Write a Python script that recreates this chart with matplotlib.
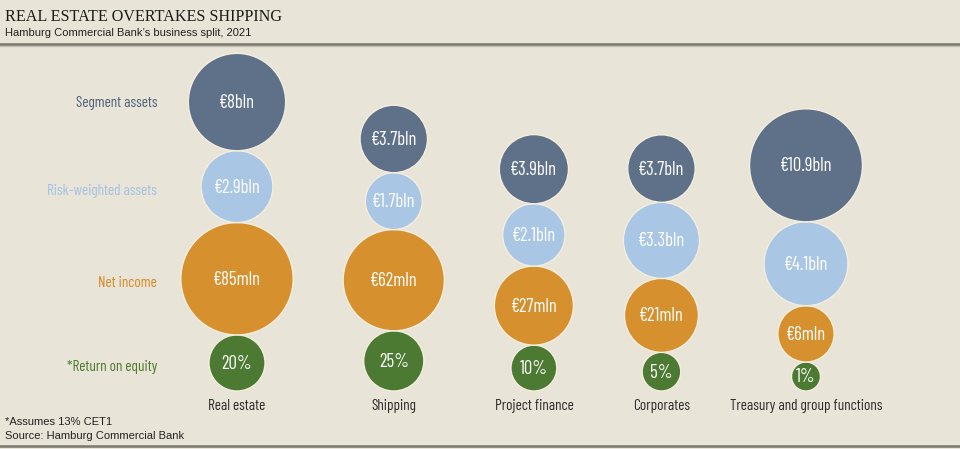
import numpy as np
import matplotlib
matplotlib.use("Agg")
import matplotlib.pyplot as plt
from matplotlib.patches import Circle

# data
segments = ["Real estate", "Shipping", "Project finance", "Corporates",
            "Treasury and group functions"]
row_names = ["Segment assets", "Risk-weighted assets", "Net income",
             "*Return on equity"]
segment_assets = [8, 3.7, 3.9, 3.7, 10.9]        # EUR bln
rwa = [2.9, 1.7, 2.1, 3.3, 4.1]                  # EUR bln
net_income = [85, 62, 27, 21, 6]                 # EUR mln
roe = [20, 25, 10, 5, 1]                         # percent

seg_labels = ["€8bln", "€3.7bln", "€3.9bln", "€3.7bln", "€10.9bln"]
rwa_labels = ["€2.9bln", "€1.7bln", "€2.1bln", "€3.3bln", "€4.1bln"]
ni_labels = ["€85mln", "€62mln", "€27mln", "€21mln", "€6mln"]
roe_labels = ["20%", "25%", "10%", "5%", "1%"]

# styling
BG = "#e8e4d8"
colors = ["#5f7189", "#a9c6e4", "#d6902e", "#4d7a32"]
label_colors = ["#4e607a", "#a3c2e2", "#d38a22", "#4a7a2c"]
# radius = a + b*sqrt(value), one pair per row
rscale = [(2, 16.5), (4, 18.75), (18, 4.14), (10.6, 3.9)]
COND = dict(family=["Barlow Condensed", "DejaVu Sans"], weight=400)

rows = [segment_assets, rwa, net_income, roe]
labels = [seg_labels, rwa_labels, ni_labels, roe_labels]
radii = np.array([[a + b * np.sqrt(v) for v in vals]
                  for (a, b), vals in zip(rscale, rows)])

fig = plt.figure(figsize=(9.6, 4.49), dpi=100, facecolor=BG)
ax = fig.add_axes([0, 0, 1, 1])
ax.set_xlim(0, 960)
ax.set_ylim(449, 0)
ax.set_facecolor(BG)
ax.axis("off")

# column positions: constant gap between widest bubbles
gap = 50
maxr = radii.max(axis=0)
xs = [237]
for i in range(1, len(segments)):
    xs.append(xs[-1] + maxr[i - 1] + maxr[i] + gap)

bottom = 391
centers = np.zeros_like(radii)
for j, x in enumerate(xs):
    y = bottom
    for i in range(3, -1, -1):
        r = radii[i, j]
        cy = y - r
        centers[i, j] = cy
        ax.add_patch(Circle((x, cy), r, facecolor=colors[i],
                            edgecolor="#f4eedf", lw=1.0))
        ax.text(x, cy + 1, labels[i][j], color="white", ha="center",
                va="center", fontsize=13.5, **COND)
        y = cy - r
    ax.text(x, bottom + 15, segments[j], color="#2b2b2b", ha="center",
            va="center", fontsize=11, **COND)

# row labels, aligned with first column
for i, name in enumerate(row_names):
    ax.text(157, centers[i, 0] + (4 if i >= 1 else 1), name,
            color=label_colors[i], ha="right", va="center", fontsize=11,
            **COND)

# header and footer
ax.text(5, 17, "REAL ESTATE OVERTAKES SHIPPING", fontsize=11.6,
        family="Liberation Serif", color="#1a1a1a", va="center")
ax.text(5, 33, "Hamburg Commercial Bank’s business split, 2021",
        fontsize=8.0, family="Liberation Sans", color="#222222", va="center")
ax.plot([0, 960], [43.5, 43.5], color="#77776c", lw=1.8)
ax.plot([0, 960], [45.5, 45.5], color="#bdbaae", lw=0.8)
ax.text(5, 422, "*Assumes 13% CET1", fontsize=8.0, family="Liberation Sans",
        color="#222222", va="center")
ax.text(5, 436, "Source: Hamburg Commercial Bank", fontsize=8.0,
        family="Liberation Sans", color="#222222", va="center")
ax.plot([0, 960], [446, 446], color="#77776c", lw=1.8)

fig.savefig("out.png", dpi=100, facecolor=BG)
